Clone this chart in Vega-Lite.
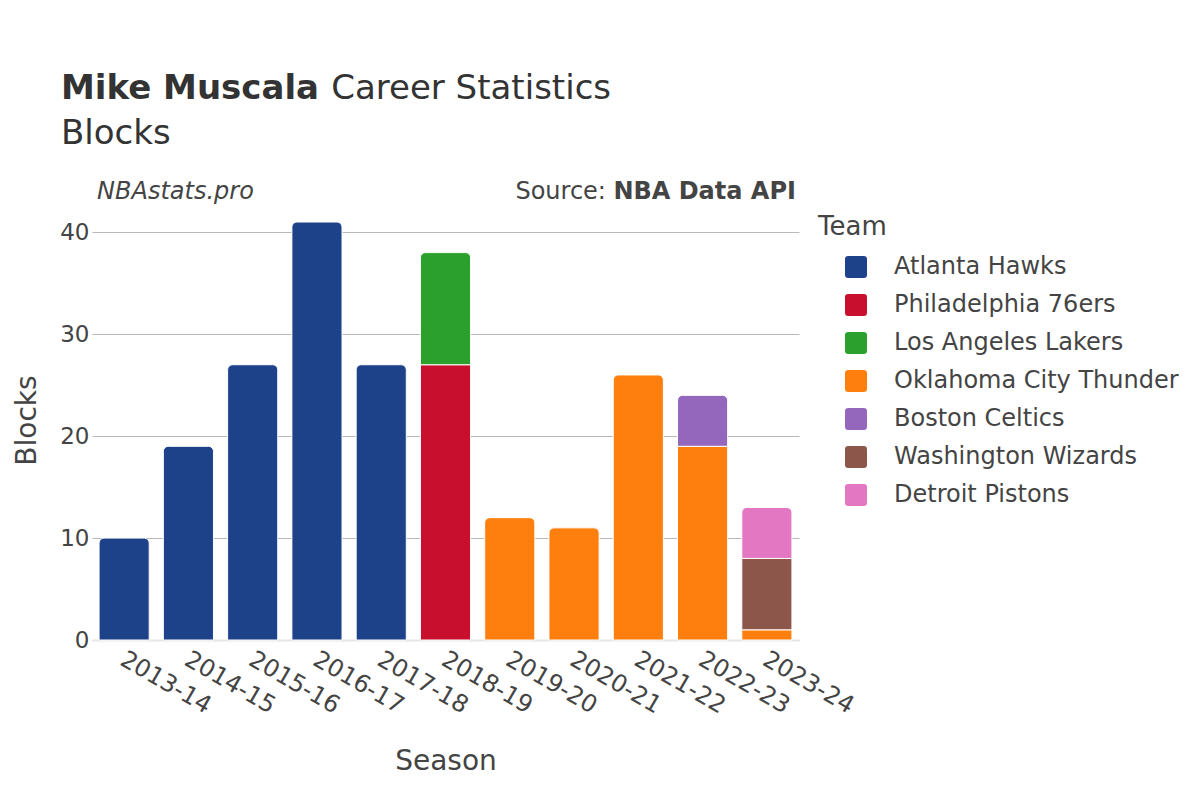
{
  "$schema": "https://vega.github.io/schema/vega-lite/v6.json",
  "width": 707,
  "height": 440,
  "autosize": {"type": "none"},
  "padding": {"left": 92, "top": 200, "right": 401, "bottom": 160},
  "background": "white",
  "config": {"font": "DejaVu Sans", "view": {"stroke": null}},
  "title": {
    "text": "Mike Muscala",
    "subtitle": ["\u200b\u00a0\u00a0\u00a0\u00a0\u00a0\u00a0\u00a0\u00a0\u00a0\u00a0\u00a0\u00a0\u00a0\u00a0\u00a0\u00a0\u00a0\u00a0\u00a0\u00a0\u00a0\u00a0\u00a0\u00a0\u00a0Career Statistics", "Blocks"],
    "anchor": "start",
    "frame": "group",
    "dx": -31,
    "offset": 29,
    "font": "DejaVu Sans",
    "fontSize": 34,
    "fontWeight": "bold",
    "color": "#333333",
    "subtitleFont": "DejaVu Sans",
    "subtitleFontSize": 34,
    "subtitleFontWeight": "normal",
    "subtitleColor": "#333333",
    "subtitlePadding": -34,
    "subtitleLineHeight": 45
  },
  "layer": [
    {
      "data": {
        "values": [
          {"season": "2013-14", "team": "Atlanta Hawks", "blocks": 10},
          {"season": "2014-15", "team": "Atlanta Hawks", "blocks": 19},
          {"season": "2015-16", "team": "Atlanta Hawks", "blocks": 27},
          {"season": "2016-17", "team": "Atlanta Hawks", "blocks": 41},
          {"season": "2017-18", "team": "Atlanta Hawks", "blocks": 27},
          {"season": "2018-19", "team": "Philadelphia 76ers", "blocks": 27},
          {"season": "2018-19", "team": "Los Angeles Lakers", "blocks": 11},
          {"season": "2019-20", "team": "Oklahoma City Thunder", "blocks": 12},
          {"season": "2020-21", "team": "Oklahoma City Thunder", "blocks": 11},
          {"season": "2021-22", "team": "Oklahoma City Thunder", "blocks": 26},
          {"season": "2022-23", "team": "Oklahoma City Thunder", "blocks": 19},
          {"season": "2022-23", "team": "Boston Celtics", "blocks": 5},
          {"season": "2023-24", "team": "Oklahoma City Thunder", "blocks": 1},
          {"season": "2023-24", "team": "Washington Wizards", "blocks": 7},
          {"season": "2023-24", "team": "Detroit Pistons", "blocks": 5}
        ]
      },
      "transform": [
        {"calculate": "indexof(['Atlanta Hawks','Philadelphia 76ers','Los Angeles Lakers','Oklahoma City Thunder','Boston Celtics','Washington Wizards','Detroit Pistons'], datum.team)", "as": "teamOrder"},
        {"stack": "blocks", "groupby": ["season"], "sort": [{"field": "teamOrder", "order": "ascending"}], "as": ["y0", "y1"]},
        {"joinaggregate": [{"op": "max", "field": "y1", "as": "total"}], "groupby": ["season"]}
      ],
      "encoding": {
        "x": {
          "field": "season",
          "type": "nominal",
          "sort": ["2013-14","2014-15","2015-16","2016-17","2017-18","2018-19","2019-20","2020-21","2021-22","2022-23","2023-24"],
          "scale": {"domain": ["2013-14","2014-15","2015-16","2016-17","2017-18","2018-19","2019-20","2020-21","2021-22","2022-23","2023-24"], "paddingInner": 0.22, "paddingOuter": 0.11},
          "axis": {
            "title": "Season",
            "labelAngle": 30,
            "labelFontSize": 24,
            "labelColor": "#444444",
            "labelPadding": 7,
            "labelOffset": 4,
            "ticks": false,
            "domainColor": "#e6e6e6",
            "domainWidth": 2,
            "titleFontSize": 28,
            "titleFontWeight": "normal",
            "titleColor": "#444444",
            "titlePadding": 30
          }
        },
        "y": {
          "field": "y1",
          "type": "quantitative",
          "scale": {"domain": [0, 43.16], "nice": false, "zero": true},
          "axis": {
            "title": "Blocks",
            "values": [0, 10, 20, 30, 40],
            "domain": false,
            "ticks": false,
            "gridColor": "#b8b8b8",
            "gridWidth": 1,
            "labelFontSize": 23,
            "labelColor": "#444444",
            "labelPadding": 3,
            "titleFontSize": 28,
            "titleFontWeight": "normal",
            "titleColor": "#444444",
            "titlePadding": 18
          }
        },
        "y2": {"field": "y0"},
        "color": {
          "field": "team",
          "type": "nominal",
          "scale": {
            "domain": ["Atlanta Hawks","Philadelphia 76ers","Los Angeles Lakers","Oklahoma City Thunder","Boston Celtics","Washington Wizards","Detroit Pistons"],
            "range": ["#1d428a","#c8102e","#2ca02c","#ff7f0e","#9467bd","#8c564b","#e377c2"]
          },
          "legend": {
            "title": "Team",
            "orient": "none",
            "legendX": 726,
            "legendY": 14,
            "titleFontSize": 26,
            "titleFontWeight": "normal",
            "titleColor": "#444444",
            "titlePadding": 15,
            "labelFontSize": 24,
            "labelColor": "#444444",
            "labelLimit": 400,
            "labelOffset": 26,
            "symbolType": "M -0.7 -1 L 0.7 -1 Q 1 -1 1 -0.7 L 1 0.7 Q 1 1 0.7 1 L -0.7 1 Q -1 1 -1 0.7 L -1 -0.7 Q -1 -1 -0.7 -1 Z",
            "symbolSize": 484,
            "symbolOffset": 26,
            "symbolStrokeWidth": 0,
            "rowPadding": 14
          }
        }
      },
      "layer": [
        {
          "transform": [{"filter": "datum.y1 < datum.total"}],
          "mark": {"type": "bar", "stroke": "white", "strokeWidth": 1}
        },
        {
          "transform": [{"filter": "datum.y1 >= datum.total"}],
          "mark": {"type": "bar", "stroke": "white", "strokeWidth": 1, "cornerRadiusTopLeft": 5, "cornerRadiusTopRight": 5}
        }
      ]
    },
    {
      "data": {"values": [{"label": "NBAstats.pro"}]},
      "mark": {"type": "text", "align": "left", "baseline": "middle", "fontSize": 24, "fontStyle": "italic", "color": "#444444", "dx": -2},
      "encoding": {
        "x": {"datum": "2013-14", "bandPosition": 0},
        "y": {"datum": 43.94},
        "text": {"field": "label"}
      }
    },
    {
      "data": {"values": [{"label": "NBA Data API"}]},
      "mark": {"type": "text", "align": "right", "baseline": "middle", "fontSize": 24, "fontWeight": "bold", "color": "#444444", "dx": 4},
      "encoding": {
        "x": {"datum": "2023-24", "bandPosition": 1},
        "y": {"datum": 43.94},
        "text": {"field": "label"}
      }
    },
    {
      "data": {"values": [{"label": "Source:"}]},
      "mark": {"type": "text", "align": "right", "baseline": "middle", "fontSize": 24, "color": "#444444", "dx": -186},
      "encoding": {
        "x": {"datum": "2023-24", "bandPosition": 1},
        "y": {"datum": 43.94},
        "text": {"field": "label"}
      }
    }
  ]
}
